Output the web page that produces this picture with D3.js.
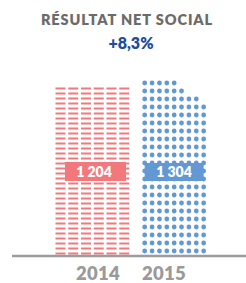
<!DOCTYPE html>
<html><head><meta charset="utf-8">
<script src="https://cdn.jsdelivr.net/npm/d3@7"></script>
<style>html,body{margin:0;padding:0;background:#fff;}svg{display:block;}</style>
</head><body>
<div id="chart"></div>
<script>
const title = "RÉSULTAT NET SOCIAL";
const growth = "+8,3%";
const years = ["2014", "2015"];
const values = [1204, 1304];
const valueLabels = ["1 204", "1 304"];
const gridColumns = [6, 9];
const topRowDots2015 = [5, 6, 8];   // partial top rows (from top) of the 2015 dot grid
const colors = ["#f3787b", "#6299d5"];

const W = 246, H = 283;
const svg = d3.select("#chart").append("svg").attr("width", W).attr("height", H);
const font = "Lato, 'Open Sans', sans-serif";

svg.append("text").attr("x", 127).attr("y", 25).attr("text-anchor", "middle")
  .attr("font-family", font).attr("font-weight", 800).attr("font-size", 14.5)
  .attr("letter-spacing", 0.9).attr("fill", "#6b6b6b").text(title);
svg.append("text").attr("x", 131).attr("y", 48.5).attr("text-anchor", "middle")
  .attr("font-family", font).attr("font-weight", 800).attr("font-size", 16)
  .attr("fill", "#1d4d9c").text(growth);

const baseY = 255;
const y = d3.scaleLinear().domain([0, 1304]).range([baseY, 73.4]);
const x = d3.scaleBand().domain(years).range([55.5, 206]).paddingInner(0.266);
const xl = d3.scalePoint().domain(years).range([98, 164]);

// 2014: dashes
(function () {
  const i = 0, top = y(values[i]);
  const step = 5, h = 2, w = 10, colStep = 12.75, bottom = 253.5;
  const g = svg.append("g");
  for (let r = 0; bottom - r * step - h / 2 >= top - 0.5; r++) {
    const cy = bottom - r * step;
    for (let c = 0; c < gridColumns[i]; c++) {
      g.append("rect").attr("x", x(years[i]) + c * colStep).attr("y", cy - h / 2)
        .attr("width", w).attr("height", h).attr("fill", colors[i]);
    }
  }
  const bx = 65, bw = 61, by = 162, bh = 19;
  svg.append("rect").attr("x", bx).attr("y", by).attr("width", bw).attr("height", bh).attr("fill", colors[i]);
  svg.append("text").attr("x", 94).attr("y", 177).attr("text-anchor", "middle")
    .attr("font-family", font).attr("font-weight", 800).attr("font-size", 14)
    .attr("fill", "#fff").text(valueLabels[i]);
})();

// 2015: dots
(function () {
  const i = 1, top = y(values[i]);
  const step = 8, r0 = 2.4, colStep = 7.37, bottom = 251, x0 = x(years[i]) + 2.4;
  const g = svg.append("g");
  const rows = [];
  for (let r = 0; bottom - r * step - r0 >= top - 0.5; r++) rows.push(bottom - r * step);
  rows.forEach((cy, k) => {
    const fromTop = rows.length - 1 - k;
    const n = fromTop < topRowDots2015.length ? topRowDots2015[fromTop] : gridColumns[i];
    for (let c = 0; c < n; c++) {
      g.append("circle").attr("cx", x0 + c * colStep).attr("cy", cy).attr("r", r0).attr("fill", colors[i]);
    }
  });
  const bx = x0, bw = colStep * (gridColumns[i] - 1);
  svg.append("rect").attr("x", bx).attr("y", 163).attr("width", bw).attr("height", 18).attr("fill", colors[i]);
  svg.append("text").attr("x", 174).attr("y", 177).attr("text-anchor", "middle")
    .attr("font-family", font).attr("font-weight", 800).attr("font-size", 14)
    .attr("fill", "#fff").text(valueLabels[i]);
})();

// baseline
svg.append("line").attr("x1", 12).attr("x2", 246).attr("y1", baseY + 1).attr("y2", baseY + 1)
  .attr("stroke", "#9c9c9c").attr("stroke-width", 2.5);

// year labels
svg.selectAll("text.year").data(years).enter().append("text").attr("class", "year")
  .attr("x", d => xl(d)).attr("y", 280).attr("text-anchor", "middle")
  .attr("font-family", font).attr("font-weight", 800).attr("font-size", 18.5)
  .attr("letter-spacing", 0.3).attr("fill", "#9a9a9a").text(d => d);
</script>
</body></html>
